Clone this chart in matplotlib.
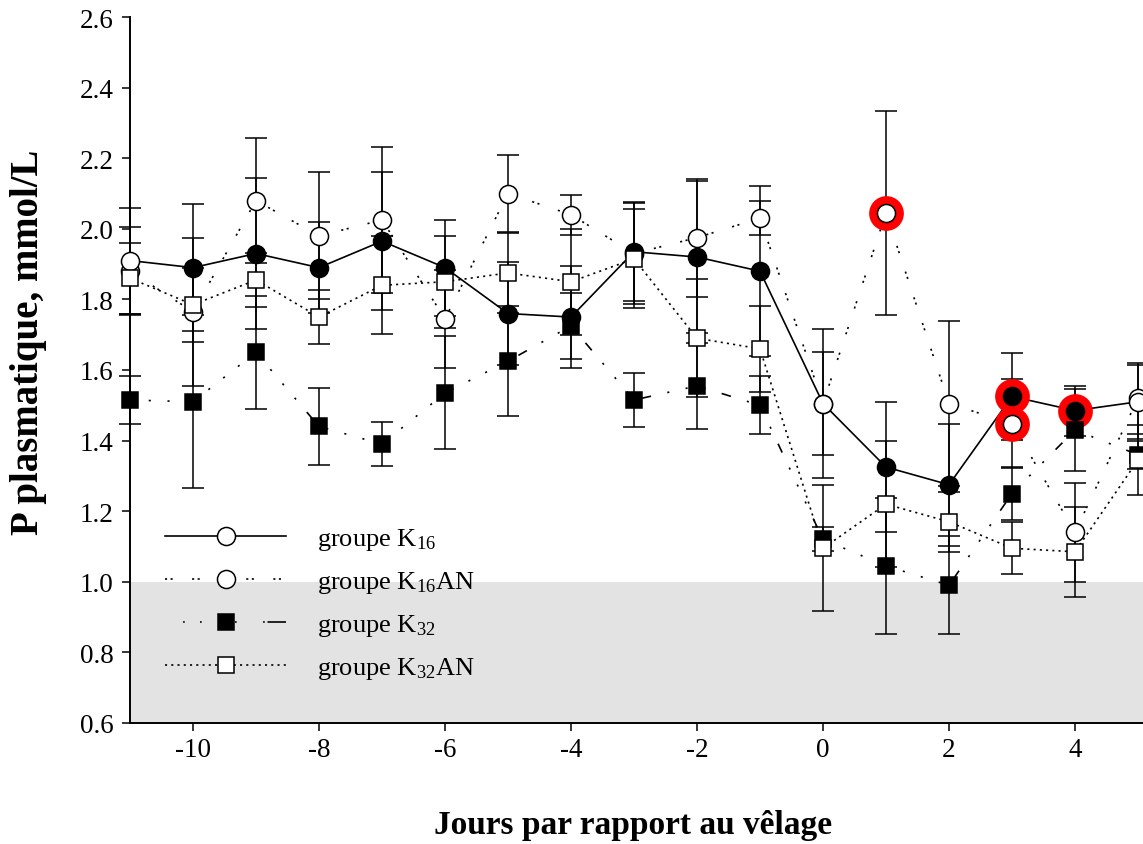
import numpy as np
import matplotlib.pyplot as plt
from matplotlib.lines import Line2D

plt.rcParams['font.family'] = 'Liberation Serif'
plt.rcParams['mathtext.fontset'] = 'custom'
plt.rcParams['mathtext.rm'] = 'Liberation Serif'
plt.rcParams['mathtext.default'] = 'rm'
plt.rcParams['axes.unicode_minus'] = False
plt.rcParams['lines.scale_dashes'] = False

# jours par rapport au vêlage
jours = np.arange(-11, 6)

# groupe K16 (trait plein)
k16 = np.array([1.91, 1.89, 1.93, 1.89, 1.965, 1.89, 1.76, 1.75, 1.935, 1.92, 1.88,
                1.505, 1.325, 1.275, 1.525, 1.485, 1.51])
k16_err = [0.15, 0.18, 0.215, 0.128, 0.195, 0.136, 0.147, 0.145, 0.14, 0.215, 0.24,
           0.21, 0.184, 0.173, 0.122, 0.071, 0.105]
# points K16 dessinés vides
k16_vides = [-11, 0, 5]

# groupe K16AN
k16an = np.array([1.88, 1.765, 2.08, 1.98, 2.025, 1.745, 2.10, 2.04, 1.93, 1.975, 2.03,
                  1.505, 2.045, 1.505, 1.448, 1.14, 1.52])
k16an_err = [0.125, 0.21, 0.178, 0.18, 0.207, 0.139, 0.108, 0.057, 0.142, 0.167, 0.048,
             0.147, 0.289, 0.235, 0.127, 0.14, 0.10]

# groupe K32
k32 = np.array([1.515, 1.51, 1.65, 1.44, 1.39, 1.535, 1.625, 1.725, 1.515, 1.555, 1.50,
                1.12, 1.045, 0.99, 1.25, 1.43, 1.36])
k32_err = [0.068, 0.245, 0.16, 0.108, 0.062, 0.16, 0.156, 0.094, 0.076, 0.122, 0.082,
           0.034, 0.193, 0.139, 0.076, 0.116, 0.04]

# groupe K32AN
k32an = np.array([1.86, 1.785, 1.855, 1.75, 1.84, 1.85, 1.875, 1.85, 1.915, 1.69, 1.66,
                  1.095, 1.22, 1.17, 1.095, 1.085, 1.345])
k32an_err = [0.10, 0.105, 0.077, 0.077, 0.139, 0.13, 0.113, 0.15, 0.14, 0.167, 0.122,
             0.178, 0.178, 0.085, 0.074, 0.127, 0.10]

# points entourés en rouge (jours)
rouge_k16 = [3, 4]
rouge_k16an = [1, 3]

labels = [r'groupe K$_{16}$', r'groupe K$_{16}$AN', r'groupe K$_{32}$', r'groupe K$_{32}$AN']

# styles de trait
ls_k16 = '-'
ls_k16an = (0, (1.5, 2.5, 1.5, 14))
ls_k32 = (0, (1.5, 12, 1.5, 12, 1.5, 12, 7, 12))
ls_k32an = (0, (1.5, 3))
# même trait pour la légende, calé pour finir par un tiret
ls_k32_leg = (0, (0.01, 13, 1.2, 11, 1.2, 24, 1.2, 19, 1.2, 2, 15, 30))

fig = plt.figure(figsize=(11.43, 8.45), dpi=100)
ax = fig.add_axes([130 / 1143, 121 / 845, 1039.5 / 1143, 706 / 845])

# zone grise sous 1.0 mmol/L
ax.axhspan(0.6, 1.0, color='#e3e3e3', lw=0, zorder=0)

lw = 1.2
ms_o = 13
ms_s = 11.5
mew = 1.1

series = [(k16, k16_err, ls_k16), (k16an, k16an_err, ls_k16an),
          (k32, k32_err, ls_k32), (k32an, k32an_err, ls_k32an)]
for vals, err, ls in series:
    ax.errorbar(jours, vals, yerr=err, fmt='none', ecolor='k', elinewidth=1.1,
                capsize=8, capthick=1.1, zorder=2, clip_on=False)
    ax.plot(jours, vals, color='k', lw=lw, ls=ls, zorder=3, clip_on=False)

# anneaux rouges
i16 = [list(jours).index(j) for j in rouge_k16]
i16an = [list(jours).index(j) for j in rouge_k16an]
rx = list(jours[i16]) + list(jours[i16an])
ry = list(k16[i16]) + list(k16an[i16an])
ax.plot(rx, ry, 'o', ms=19, mfc='none', mec='red', mew=6, zorder=3.5, clip_on=False)

# marqueurs
ax.plot(jours, k16an, 'o', ms=ms_o, mfc='white', mec='k', mew=mew, zorder=4, clip_on=False)
ax.plot(jours, k32, 's', ms=ms_s, mfc='k', mec='k', mew=mew, zorder=5, clip_on=False)
vide = np.isin(jours, k16_vides)
ax.plot(jours[~vide], k16[~vide], 'o', ms=ms_o, mfc='k', mec='k', mew=mew, zorder=6, clip_on=False)
ax.plot(jours[vide], k16[vide], 'o', ms=ms_o, mfc='white', mec='k', mew=mew, zorder=6, clip_on=False)
ax.plot(jours, k32an, 's', ms=ms_s, mfc='white', mec='k', mew=mew, zorder=7, clip_on=False)

handles = [
    Line2D([], [], color='k', lw=lw, ls=ls_k16, marker='o', ms=ms_o, mfc='white', mec='k', mew=mew),
    Line2D([], [], color='k', lw=lw, ls=ls_k16an, marker='o', ms=ms_o, mfc='white', mec='k', mew=mew),
    Line2D([], [], color='k', lw=lw, ls=ls_k32_leg, marker='s', ms=ms_s, mfc='k', mec='k', mew=mew),
    Line2D([], [], color='k', lw=lw, ls=ls_k32an, marker='s', ms=ms_s, mfc='white', mec='k', mew=mew),
]
ax.legend(handles, labels, loc='upper left', bbox_to_anchor=(165 / 1143, 1 - 527 / 845),
          bbox_transform=fig.transFigure, frameon=False, fontsize=19,
          handlelength=4.6, handletextpad=1.15, labelspacing=0.65,
          borderpad=0, borderaxespad=0)

ax.set_xlim(-11, 5.5)
ax.set_ylim(0.6, 2.6)
ax.set_xticks(np.arange(-10, 5, 2))
ax.set_yticks(np.round(np.arange(0.6, 2.61, 0.2), 1))
ax.set_yticklabels(['%.1f' % v for v in np.arange(0.6, 2.61, 0.2)])

for s in ['top', 'right']:
    ax.spines[s].set_visible(False)
for s in ['left', 'bottom']:
    ax.spines[s].set_linewidth(1.4)
ax.tick_params(direction='out', length=6, width=1.1, labelsize=19.5)
ax.tick_params(axis='x', pad=4)
ax.tick_params(axis='y', pad=6)

ax.set_xlabel('Jours par rapport au vêlage', fontsize=24, fontweight='bold')
ax.xaxis.set_label_coords((633 - 130) / 1039.5, -0.122)
ax.set_ylabel('P plasmatique, mmol/L', fontsize=28, fontweight='bold')
ax.yaxis.set_label_coords(-0.08, (724 - 342) / 706)

plt.savefig('out.png', dpi=100)
